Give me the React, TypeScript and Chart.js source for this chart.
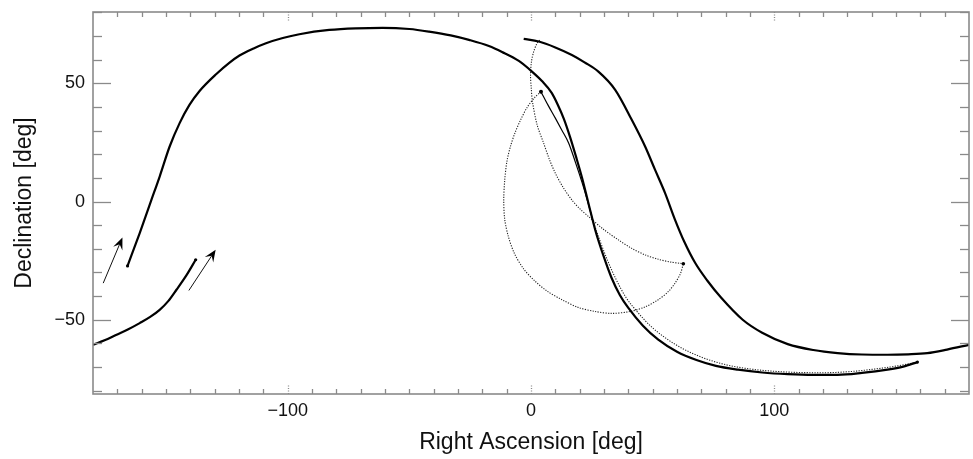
import React, { useEffect, useRef } from "react";
import { Chart, registerables } from "chart.js";

Chart.register(...registerables);

// Axis tick labels
const xTickValues = [-100, 0, 100];
const yTickValues = [-50, 0, 50];
const xMinorStep = 10;
const yMinorStep = 10;

// Track A (thick solid, left start -> big arch -> bottom right end)
const trackA_ra = [-165.8, -160.8, -156, -152.6, -148.5, -144.4, -140.3, -136.2, -129.3, -124, -119.8, -114, -108.9, -102, -95.2, -82.9, -72, -61, -50, -41.9, -33, -25.5, -17.3, -11.9, -5, 0.4, 4.5, 8.5, 11, 13.5, 16, 18.5, 21, 23.6, 26.4, 29.8, 33, 36.5, 40, 46, 52.3, 60, 68, 76, 85.1, 95, 105.5, 116, 126, 136, 146.5, 153, 158.8];
const trackA_dec = [-27.2, -13.3, 0.7, 10.6, 23.3, 33.2, 41, 46.8, 54, 58.7, 61.8, 64.8, 67, 69.2, 70.8, 72.6, 73.3, 73.5, 73, 71.9, 70.3, 68.4, 65.8, 63.3, 59.5, 55, 51, 46, 41, 35, 27.5, 19, 10, -0.7, -12, -23, -32, -39.5, -45, -52.5, -58.4, -63.5, -67, -69.5, -71.1, -72.3, -73, -73.3, -73.3, -72.5, -71.1, -69.8, -67.9];

// Track B (thin, from the cusp near RA 4 down along track A)
const trackB1_ra = [4.1, 7, 10, 12.8, 15.5, 18.3, 21, 23.3, 25.4];
const trackB1_dec = [46.5, 40.8, 35.3, 30, 24.7, 16.5, 8, 0, -8];
const trackB2_ra = [25.4, 28.5, 31.5, 35, 39, 44, 49, 55, 62, 70, 80, 90, 100, 110, 120, 130, 140, 150, 158.8];
const trackB2_dec = [-8, -17, -25, -33, -40.5, -47, -52.5, -57.5, -62, -65.8, -69, -70.8, -71.8, -72.3, -72.4, -72, -71, -69.6, -67.9];

// Track C (thick solid, right arc, wraps around RA = +/-180)
const trackC_ra = [-3, 3.2, 10, 16.8, 22, 27.7, 34.6, 41.4, 46.9, 51, 55.1, 59.2, 63, 67.5, 72.5, 78, 87, 95, 105.5, 116, 126, 136, 146.5, 155, 162.9, 171, 180];
const trackC_dec = [68.8, 67.7, 65.2, 62, 58.9, 55, 47.3, 34.6, 23.3, 13.4, 3.6, -7.7, -17, -26, -33.5, -40.5, -50, -55.5, -60.3, -62.8, -64.1, -64.7, -64.8, -64.6, -64.1, -62.6, -60.6];
const trackCwrap_ra = [-180, -175, -170.3, -165.5, -160.8, -156.5, -152.6, -149, -145.7, -141.5, -137.8];
const trackCwrap_dec = [-60.6, -58.6, -56.3, -54, -51.4, -48.8, -45.8, -42, -37.3, -31, -24.6];

// Track D (dotted, from the top hook down to the end near RA 62)
const trackD_ra = [3.6, 2.5, 1.1, 0.2, -0.2, 0.1, 0.6, 2.5, 5.2, 7.5, 10, 13.2, 16.8, 20, 23.6, 29.5, 35.9, 41.4, 47, 52.3, 57.5, 61.9];
const trackD_dec = [68.3, 67, 63.4, 59.2, 53.6, 48, 42.3, 32.5, 24.7, 18, 12, 6, 0.7, -3, -6.3, -11.5, -16.2, -19.8, -22.6, -24.4, -25.6, -26.2];

// Track E (dotted loop from the cusp to the end near RA 62)
const trackE_ra = [4.1, 1.5, -1.5, -4.3, -6.6, -8.4, -9.9, -10.8, -11.2, -10.8, -9.3, -6.8, -3, 1.5, 6.5, 12.7, 19.5, 26.4, 33, 40.7, 47, 52.3, 56.5, 59.2, 61.4, 62.6];
const trackE_dec = [46.5, 44, 40, 34.5, 29, 23.5, 17, 9, 0.7, -7.5, -14.8, -22, -28.5, -33.5, -37.8, -41.5, -44.8, -46.5, -47.3, -46.5, -44.5, -41.5, -38, -34.5, -30.5, -26.3];

// Direction arrows (tail -> head)
const arrowTail_ra = [-175.8, -140.6];
const arrowTail_dec = [-34.5, -37.6];
const arrowHead_ra = [-167.9, -129.6];
const arrowHead_dec = [-15.2, -20.4];

const FONT = "'Liberation Sans', Arial, Helvetica, sans-serif";

function pts(ra: number[], dec: number[]) {
  return ra.map((r, i) => ({ x: r, y: dec[i] }));
}

const endDots = (which: "first" | "last" | "both", r = 1.6) => (ctx: any) => {
  const n = ctx.dataset.data.length;
  const i = ctx.dataIndex;
  if ((which === "first" || which === "both") && i === 0) return r;
  if ((which === "last" || which === "both") && i === n - 1) return r;
  return 0;
};

const framePlugin = {
  id: "idlFrame",
  afterDatasetsDraw(chart: any) {
    const { ctx, chartArea, scales } = chart;
    const { left, right, top, bottom } = chartArea;
    const xs = scales.x;
    const ys = scales.y;
    ctx.save();
    ctx.strokeStyle = "#8a8a8a";
    ctx.lineWidth = 1.3;
    const seg = (x1: number, y1: number, x2: number, y2: number) => {
      ctx.beginPath();
      ctx.moveTo(x1, y1);
      ctx.lineTo(x2, y2);
      ctx.stroke();
    };
    for (let v = -180 + xMinorStep; v < 180; v += xMinorStep) {
      const px = Math.round(xs.getPixelForValue(v)) + 0.5;
      const major = xTickValues.includes(v);
      ctx.setLineDash(major ? [1, 1.5] : []);
      const len = major ? 9 : 5;
      seg(px, bottom, px, bottom - len);
      seg(px, top, px, top + len);
    }
    ctx.setLineDash([]);
    for (let v = -80; v <= 80; v += yMinorStep) {
      const py = Math.round(ys.getPixelForValue(v)) + 0.5;
      const major = yTickValues.includes(v);
      const len = major ? 18 : 9;
      seg(left, py, left + len, py);
      seg(right, py, right - len, py);
    }
    ctx.lineWidth = 1.6;
    ctx.strokeRect(left, top, right - left, bottom - top);

    // arrows
    ctx.strokeStyle = "#111";
    ctx.fillStyle = "#000";
    ctx.lineWidth = 1;
    for (let i = 0; i < arrowTail_ra.length; i++) {
      const x1 = xs.getPixelForValue(arrowTail_ra[i]);
      const y1 = ys.getPixelForValue(arrowTail_dec[i]);
      const x2 = xs.getPixelForValue(arrowHead_ra[i]);
      const y2 = ys.getPixelForValue(arrowHead_dec[i]);
      const ang = Math.atan2(y2 - y1, x2 - x1);
      const L = 12;
      const W = 5;
      const bx = x2 - L * Math.cos(ang);
      const by = y2 - L * Math.sin(ang);
      const nx = -Math.sin(ang);
      const ny = Math.cos(ang);
      const nxp = x2 - L * 0.6 * Math.cos(ang);
      const nyp = y2 - L * 0.6 * Math.sin(ang);
      seg(x1, y1, nxp, nyp);
      ctx.beginPath();
      ctx.moveTo(x2, y2);
      ctx.lineTo(bx + nx * W, by + ny * W);
      ctx.lineTo(nxp, nyp);
      ctx.lineTo(bx - nx * W, by - ny * W);
      ctx.closePath();
      ctx.fill();
    }
    ctx.restore();
  },
};

export default function App() {
  const ref = useRef<HTMLCanvasElement | null>(null);
  useEffect(() => {
    if (!ref.current) return;
    const thick = { borderColor: "#000", borderWidth: 2.2, showLine: true, cubicInterpolationMode: "monotone", pointBackgroundColor: "#000", pointBorderWidth: 0 };
    const dotted = { borderColor: "#222", borderWidth: 1.1, borderDash: [1.2, 1.4], showLine: true, tension: 0.3, pointBackgroundColor: "#000", pointBorderWidth: 0 };
    const zeroPad = (s: any) => {
      s.paddingTop = 0;
      s.paddingBottom = 0;
      s.paddingLeft = 0;
      s.paddingRight = 0;
    };
    const chart = new Chart(ref.current, {
      type: "scatter",
      data: {
        datasets: [
          { label: "A", data: pts(trackA_ra, trackA_dec), ...thick, pointRadius: endDots("both") },
          { label: "B1", data: pts(trackB1_ra, trackB1_dec), ...thick, borderWidth: 1.2, pointRadius: endDots("first", 2) },
          { label: "B2", data: pts(trackB2_ra, trackB2_dec), ...dotted, cubicInterpolationMode: "monotone", pointRadius: 0 },
          { label: "C", data: pts(trackC_ra, trackC_dec), ...thick, pointRadius: 0 },
          { label: "Cw", data: pts(trackCwrap_ra, trackCwrap_dec), ...thick, pointRadius: endDots("last") },
          { label: "D", data: pts(trackD_ra, trackD_dec), ...dotted, pointRadius: 0 },
          { label: "E", data: pts(trackE_ra, trackE_dec), ...dotted, pointRadius: endDots("last", 1.8) },
        ] as any,
      },
      options: {
        responsive: false,
        maintainAspectRatio: false,
        animation: false,
        layout: { padding: { top: 12, right: 1.3, bottom: 0, left: 0 } },
        plugins: { legend: { display: false }, tooltip: { enabled: false } },
        scales: {
          x: {
            type: "linear",
            position: "bottom",
            min: -180,
            max: 180,
            grid: { display: false, drawTicks: false },
            border: { display: false },
            afterBuildTicks: (s: any) => {
              s.ticks = xTickValues.map((v) => ({ value: v }));
            },
            afterFit: (s: any) => {
              s.height = 65;
              zeroPad(s);
            },
            ticks: {
              padding: 6,
              color: "#111",
              font: { family: FONT, size: 18 },
              callback: (v: any) => String(v).replace("-", "\u2212"),
            },
            title: {
              display: true,
              text: "Right Ascension [deg]",
              color: "#111",
              font: { family: FONT, size: 23 },
              padding: { top: 0, bottom: 3 },
            },
          },
          y: {
            type: "linear",
            min: -81.4,
            max: 80.2,
            grid: { display: false, drawTicks: false },
            border: { display: false },
            afterBuildTicks: (s: any) => {
              s.ticks = yTickValues.map((v) => ({ value: v }));
            },
            afterFit: (s: any) => {
              s.width = 93;
              zeroPad(s);
            },
            ticks: {
              padding: 8,
              color: "#111",
              font: { family: FONT, size: 18 },
              callback: (v: any) => String(v).replace("-", "\u2212"),
            },
            title: {
              display: true,
              text: "Declination [deg]",
              color: "#111",
              font: { family: FONT, size: 23 },
              padding: { top: 11, bottom: 0 },
            },
          },
        },
      } as any,
      plugins: [framePlugin],
    });
    return () => chart.destroy();
  }, []);
  return (
    <div style={{ position: "fixed", left: 0, top: 0, width: 973, height: 459, background: "#fff" }}>
      <canvas ref={ref} width={973} height={459} style={{ width: 973, height: 459 }} />
    </div>
  );
}
